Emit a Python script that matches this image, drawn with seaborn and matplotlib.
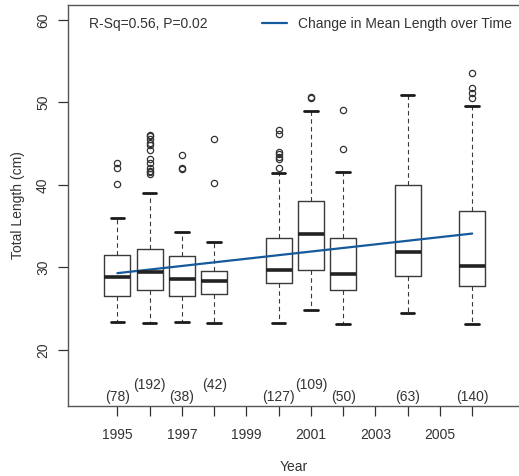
import matplotlib
matplotlib.use("Agg")
import matplotlib.pyplot as plt
import seaborn as sns
import pandas as pd

# ── Data ───────────────────────────────────────────────────────────────────────
years = [1995, 1996, 1997, 1998, 2000, 2001, 2002, 2004, 2006]
counts = [78, 192, 38, 42, 127, 109, 50, 63, 140]
q1 = [26.5, 27.2, 26.5, 26.8, 28.1, 29.7, 27.2, 28.9, 27.8]
median = [28.8, 29.5, 28.6, 28.3, 29.7, 34.0, 29.2, 31.9, 30.2]
q3 = [31.5, 32.2, 31.4, 29.6, 33.6, 38.0, 33.6, 40.0, 36.8]
whisker_lo = [23.4, 23.2, 23.4, 23.2, 23.2, 24.8, 23.1, 24.5, 23.1]
whisker_hi = [36.0, 39.0, 34.3, 33.1, 41.4, 49.0, 41.6, 50.9, 49.5]
outliers = [
    [42.6, 42.1, 40.1],
    [46.0, 45.9, 45.5, 45.1, 44.8, 44.2, 43.1, 42.6, 42.1, 41.7, 41.5, 41.3],
    [43.6, 42.0, 41.9],
    [45.6, 40.2],
    [46.7, 46.2, 44.0, 43.8, 43.4, 43.1, 42.0],
    [50.6, 50.5],
    [49.1, 44.3],
    [],
    [53.6, 51.7, 51.1, 50.5],
]
trend_years = [1995, 2006]
trend_length = [29.3, 34.1]

sns.set_theme(style="ticks")
plt.rcParams["font.family"] = ["Liberation Sans", "DejaVu Sans"]

TXT = "#333333"

fig = plt.figure(figsize=(5.19, 4.76), dpi=100)
ax = fig.add_axes([68 / 519, 70 / 476, 451 / 519, 401 / 476])

stats = [dict(med=m, q1=a, q3=b, whislo=lo, whishi=hi, fliers=f)
         for m, a, b, lo, hi, f in zip(median, q1, q3, whisker_lo, whisker_hi, outliers)]
ax.bxp(stats, positions=years, widths=0.8, capwidths=0.42, showfliers=True,
       boxprops=dict(color="#3a3a3a", linewidth=1.0),
       medianprops=dict(color="#222222", linewidth=2.6, solid_capstyle="butt"),
       whiskerprops=dict(color="#3a3a3a", linewidth=0.8, linestyle=(0, (4, 3))),
       capprops=dict(color="#1a1a1a", linewidth=2.0),
       flierprops=dict(marker="o", markersize=4.5, markerfacecolor="none",
                       markeredgecolor="#333333", markeredgewidth=0.9))

trend = pd.DataFrame({"Year": trend_years, "Length": trend_length})
sns.lineplot(data=trend, x="Year", y="Length", color="#155a9c", linewidth=1.6,
             label="Change in Mean Length over Time", ax=ax)

# sample sizes under the boxes, raised where neighbours would collide
raised = {1996, 1998, 2001}
for yr, n in zip(years, counts):
    ax.text(yr, 15.8 if yr in raised else 14.3, f"({n})", ha="center", va="center",
            fontsize=10, color=TXT)

ax.text(0.047, 0.953, "R-Sq=0.56, P=0.02", transform=ax.transAxes,
        ha="left", va="center", fontsize=10, color=TXT)
ax.legend(loc="center right", bbox_to_anchor=(0.985, 0.953), frameon=False,
          fontsize=10, handlelength=1.8, handletextpad=0.8, borderpad=0,
          borderaxespad=0, labelcolor=TXT)

ax.set_xlim(1993.47, 2007.45)
ax.set_ylim(13.2, 61.8)
tick_years = list(range(1995, 2007))
ax.set_xticks(tick_years)
ax.set_xticklabels([str(y) if y % 2 == 1 else "" for y in tick_years])
ax.set_yticks([20, 30, 40, 50, 60])
ax.set_yticklabels(["20", "30", "40", "50", "60"], rotation=90, va="center")
ax.tick_params(axis="both", labelsize=10, colors=TXT, length=7, width=0.9, pad=9)
ax.tick_params(axis="y", pad=6)

ax.set_xlabel("Year", fontsize=10, color=TXT, labelpad=13)
ax.set_ylabel("Total Length (cm)", fontsize=10, color=TXT, labelpad=8)

for side in ["left", "bottom", "top"]:
    ax.spines[side].set_color("#555555")
    ax.spines[side].set_linewidth(1.0)
ax.spines["right"].set_visible(False)

fig.savefig("out.png", dpi=100)
